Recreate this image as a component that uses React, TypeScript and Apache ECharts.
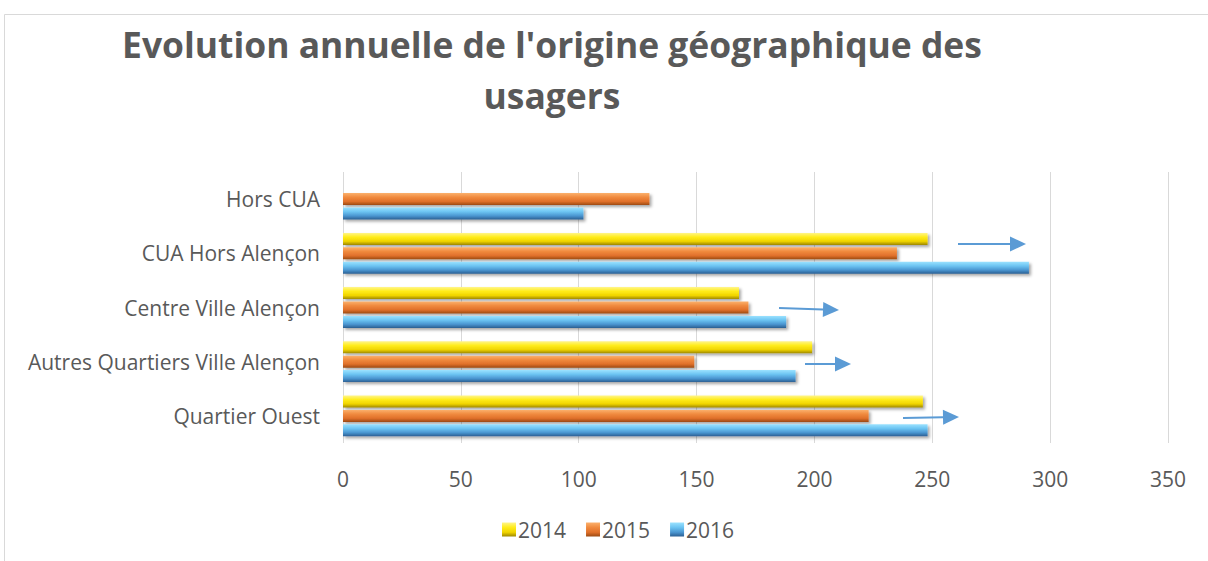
import React, { useEffect, useRef } from "react";
import * as echarts from "echarts";

const categories = [
  "Quartier Ouest",
  "Autres Quartiers Ville Alençon",
  "Centre Ville Alençon",
  "CUA Hors Alençon",
  "Hors CUA",
];
const seriesNames = ["2014", "2015", "2016"];
const values2014 = [246, 199, 168, 248, null];
const values2015 = [223, 149, 172, 235, 130];
const values2016 = [248, 192, 188, 291, 102];
const xTicks = [0, 50, 100, 150, 200, 250, 300, 350];

const titleLine1 = "Evolution annuelle de l'origine géographique des";
const titleLine2 = "usagers";

const grad = (stops: [number, string][]) =>
  new echarts.graphic.LinearGradient(
    0,
    0,
    0,
    1,
    stops.map(([offset, color]) => ({ offset, color }))
  );

const yellow = grad([
  [0, "#fff58a"],
  [0.35, "#ffec1a"],
  [0.7, "#f0d400"],
  [1, "#9e8800"],
]);
const orange = grad([
  [0, "#fbb06c"],
  [0.35, "#f08a3e"],
  [0.7, "#e0702a"],
  [1, "#9c4a12"],
]);
const blue = grad([
  [0, "#9be2ff"],
  [0.35, "#6cc4f2"],
  [0.7, "#4a95d0"],
  [1, "#2b5f92"],
]);

function measure(text: string, font: string): number {
  const c = document.createElement("canvas");
  const ctx = c.getContext("2d");
  if (!ctx) return 0;
  ctx.font = font;
  return ctx.measureText(text).width;
}

export default function App() {
  const ref = useRef<HTMLDivElement>(null);
  useEffect(() => {
    document.body.style.margin = "0";
    if (!ref.current) return;
    const chart = echarts.init(ref.current, undefined, { renderer: "svg" });
    const font = "'Open Sans', sans-serif";
    const titleFont = `bold 36px ${font}`;
    const w1 = measure(titleLine1, titleFont) || 874;
    const sx = Math.max(0.7, Math.min(1.2, 860 / w1));

    const arrow = (x1: number, y1: number, x2: number, y2: number) => {
      const head = 16;
      const half = 7.5;
      const dx = x2 - x1;
      const dy = y2 - y1;
      const len = Math.sqrt(dx * dx + dy * dy);
      const ux = dx / len;
      const uy = dy / len;
      const bx = x2 - ux * head;
      const by = y2 - uy * head;
      return [
        {
          type: "line",
          shape: { x1, y1, x2: bx, y2: by },
          style: { stroke: "#5b9bd5", lineWidth: 2 },
          z: 100,
        },
        {
          type: "polygon",
          shape: {
            points: [
              [x2, y2],
              [bx - uy * half, by + ux * half],
              [bx + uy * half, by - ux * half],
            ],
          },
          style: { fill: "#5b9bd5" },
          z: 100,
        },
      ];
    };

    const barStyle = (color: any) => ({
      color,
      shadowBlur: 3,
      shadowColor: "rgba(0,0,0,0.35)",
      shadowOffsetX: 2,
      shadowOffsetY: 2,
    });

    chart.setOption({
      animation: false,
      backgroundColor: "#ffffff",
      textStyle: { fontFamily: font },
      graphic: [
        {
          type: "rect",
          shape: { x: 4.5, y: 14.5, width: 1300, height: 600 },
          style: { fill: "none", stroke: "#d9d9d9", lineWidth: 1 },
          silent: true,
        },
        {
          type: "text",
          x: 552,
          y: 44,
          scaleX: sx,
          style: {
            text: titleLine1,
            font: titleFont,
            fill: "#595959",
            align: "center",
            verticalAlign: "middle",
          },
        },
        {
          type: "text",
          x: 552,
          y: 95,
          scaleX: sx,
          style: {
            text: titleLine2,
            font: titleFont,
            fill: "#595959",
            align: "center",
            verticalAlign: "middle",
          },
        },
        ...arrow(958, 244, 1026, 244),
        ...arrow(779, 308, 839, 310),
        ...arrow(805, 364, 851, 364),
        ...arrow(903, 418, 959, 417),
      ],
      legend: {
        data: seriesNames,
        left: 497,
        top: 514,
        itemWidth: 14,
        itemHeight: 14,
        itemGap: 20,
        icon: "rect",
        textStyle: { color: "#595959", fontSize: 21, fontFamily: font, padding: [0, 0, 0, -3] },
      },
      grid: { left: 343, right: 40, top: 172, bottom: 118, containLabel: false },
      xAxis: {
        type: "value",
        min: xTicks[0],
        max: xTicks[xTicks.length - 1],
        interval: 50,
        axisLine: { show: false },
        axisTick: { show: false },
        splitLine: { show: true, lineStyle: { color: "#d9d9d9", width: 1 } },
        axisLabel: { color: "#595959", fontSize: 21, fontFamily: font, margin: 25 },
      },
      yAxis: {
        type: "category",
        data: categories,
        axisLine: { show: false },
        axisTick: { show: false },
        axisLabel: { color: "#595959", fontSize: 21, fontFamily: font, margin: 23 },
      },
      series: [
        { name: seriesNames[0], type: "bar", data: values2014, barWidth: 12, barGap: "20%", itemStyle: barStyle(yellow) },
        { name: seriesNames[1], type: "bar", data: values2015, barWidth: 12, barGap: "20%", itemStyle: barStyle(orange) },
        { name: seriesNames[2], type: "bar", data: values2016, barWidth: 12, barGap: "20%", itemStyle: barStyle(blue) },
      ],
    });
    return () => chart.dispose();
  }, []);
  return <div ref={ref} style={{ width: 1208, height: 561 }} />;
}
